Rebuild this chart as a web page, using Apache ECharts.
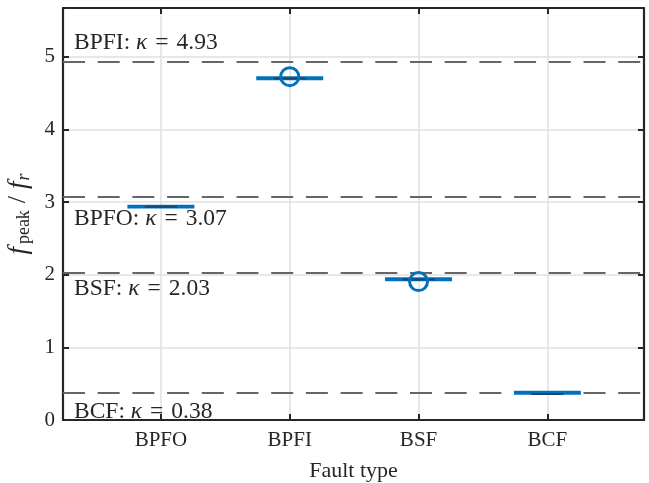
<!DOCTYPE html>
<html>
<head>
<meta charset="utf-8">
<script src="https://cdn.jsdelivr.net/npm/echarts@6/dist/echarts.min.js"></script>
<style>
  html, body { margin: 0; padding: 0; background: #fff; }
  #chart { width: 649px; height: 483px; }
</style>
</head>
<body>
<div id="chart"></div>
<script>
// Fault types along the x axis (positions 1..4)
const categories = ['BPFO', 'BPFI', 'BSF', 'BCF'];
// Box level (quartiles collapse to one value) of f_peak / f_r per fault type
const boxLevel = [2.937, 4.703, 1.937, 0.375];
// Lower whisker cap per fault type
const capLevel = [2.935, 4.700, 1.935, 0.358];
// Outlier markers (null where none)
const outliers = [null, 4.725, 1.905, null];
// Theoretical fault frequency ratios kappa
const kappaNames = ['BPFI', 'BPFO', 'BSF', 'BCF'];
const kappaValues = [4.93, 3.07, 2.03, 0.38];
// y-axis ticks
const yTicks = [0, 1, 2, 3, 4, 5];

const FONT = '"Liberation Serif", "DejaVu Serif", serif';
const TXT = '#262626';
const BLUE = '#0072BD';
const GRID = '#e0e0e0';
const FS = 21;      // tick labels and axis titles
const FSK = 23.5;   // kappa annotations

const xPos = categories.map((_, i) => i + 1);
const boxData = categories.map((c, i) => [i + 1, boxLevel[i], capLevel[i]]);
const outlierData = outliers
  .map((v, i) => (v == null ? null : [i + 1, v]))
  .filter(d => d);

// label placement: first label sits above its line, the rest below
const labelGap = [[11, 7], [11, 10], [11, 4], [11, 7]];
const kappaLines = kappaNames.map((n, i) => ({
  yAxis: kappaValues[i],
  label: {
    position: i === 0 ? 'insideStartTop' : 'insideStartBottom',
    distance: labelGap[i],
    formatter: '{n|' + n + ': }{k|κ}{e|=}{n|' + kappaValues[i].toFixed(2) + '}'
  }
}));

const xCommon = {
  type: 'value', min: 0.24, max: 4.75,
  axisLine: { show: true, onZero: false, lineStyle: { color: TXT, width: 2.2 } },
  axisTick: { show: true, inside: true, length: 6, customValues: xPos,
              lineStyle: { color: TXT, width: 2 } },
  splitLine: { show: false }
};
const yCommon = {
  type: 'value', min: 0, max: 5.67, interval: 1,
  axisLine: { show: true, onZero: false, lineStyle: { color: TXT, width: 2.2 } },
  axisTick: { show: true, inside: true, length: 6, customValues: yTicks,
              lineStyle: { color: TXT, width: 2 } },
  splitLine: { show: false }
};

const chart = echarts.init(document.getElementById('chart'), null, { renderer: 'canvas' });
chart.setOption({
  animation: false,
  backgroundColor: '#fff',
  grid: { left: 63, right: 5, top: 8, bottom: 63, containLabel: false, outerBoundsMode: 'none' },
  xAxis: [
    Object.assign({}, xCommon, {
      position: 'bottom',
      splitLine: { show: true, lineStyle: { color: GRID, width: 1.5 } },
      axisLabel: {
        customValues: xPos, margin: 10, color: TXT, fontFamily: FONT, fontSize: FS,
        formatter: v => categories[Math.round(v) - 1] || ''
      },
      name: 'Fault type', nameLocation: 'middle', nameGap: 40,
      nameTextStyle: { color: TXT, fontFamily: FONT, fontSize: 22 }
    }),
    Object.assign({}, xCommon, { position: 'top', axisLabel: { show: false } })
  ],
  yAxis: [
    Object.assign({}, yCommon, {
      position: 'left',
      splitLine: { show: true, lineStyle: { color: GRID, width: 1.5 } },
      axisLabel: {
        customValues: yTicks, margin: 8, color: TXT, fontFamily: FONT, fontSize: FS,
        formatter: v => String(v)
      },
      name: '{i|f}{s|peak}{n|/}{i|f}{si|r}',
      nameLocation: 'middle', nameGap: 25, nameRotate: 90,
      nameTextStyle: {
        color: TXT, fontFamily: FONT, fontSize: FS,
        rich: {
          i: { fontFamily: FONT, fontSize: 27, fontStyle: 'italic', color: TXT },
          n: { fontFamily: FONT, fontSize: 26, color: TXT, padding: [0, 7, 0, 7] },
          s: { fontFamily: FONT, fontSize: 18, color: TXT, verticalAlign: 'bottom', padding: [12, 0, 0, 3] },
          si: { fontFamily: FONT, fontSize: 18, fontStyle: 'italic', color: TXT, verticalAlign: 'bottom', padding: [12, 0, 0, 1] }
        }
      }
    }),
    Object.assign({}, yCommon, { position: 'right', axisLabel: { show: false } })
  ],
  series: [
    {
      // dashed reference lines for the theoretical kappa values
      type: 'line', data: [], xAxisIndex: 0, yAxisIndex: 0, silent: true,
      markLine: {
        silent: true, symbol: ['none', 'none'], animation: false,
        lineStyle: { color: '#666666', width: 2, type: [22, 12.7] },
        label: {
          show: true, color: TXT, fontFamily: FONT, fontSize: FSK,
          rich: {
            n: { fontFamily: FONT, fontSize: FSK, color: TXT },
            k: { fontFamily: FONT, fontSize: FSK, fontStyle: 'italic', color: TXT },
            e: { fontFamily: FONT, fontSize: FSK, color: TXT, padding: [0, 8, 0, 8] }
          }
        },
        data: kappaLines
      },
      z: 3
    },
    {
      // collapsed boxes with their lower whisker caps
      type: 'custom', xAxisIndex: 0, yAxisIndex: 0, z: 5,
      data: boxData,
      renderItem: (params, api) => {
        const x = api.value(0), v = api.value(1), c = api.value(2);
        const a = api.coord([x - 0.26, v]), b = api.coord([x + 0.26, v]);
        const ca = api.coord([x - 0.125, c]), cb = api.coord([x + 0.125, c]);
        return {
          type: 'group',
          children: [
            { type: 'line', shape: { x1: a[0], y1: a[1], x2: b[0], y2: b[1] },
              style: { stroke: BLUE, lineWidth: 3.8 } },
            { type: 'line', shape: { x1: ca[0], y1: ca[1], x2: cb[0], y2: cb[1] },
              style: { stroke: '#17466c', lineWidth: 2 } }
          ]
        };
      }
    },
    {
      type: 'scatter', xAxisIndex: 0, yAxisIndex: 0, z: 6,
      data: outlierData, symbol: 'circle', symbolSize: 18,
      itemStyle: { color: 'rgba(0,0,0,0)', borderColor: BLUE, borderWidth: 3, opacity: 1 },
      emphasis: { disabled: true }
    }
  ]
});
</script>
</body>
</html>
